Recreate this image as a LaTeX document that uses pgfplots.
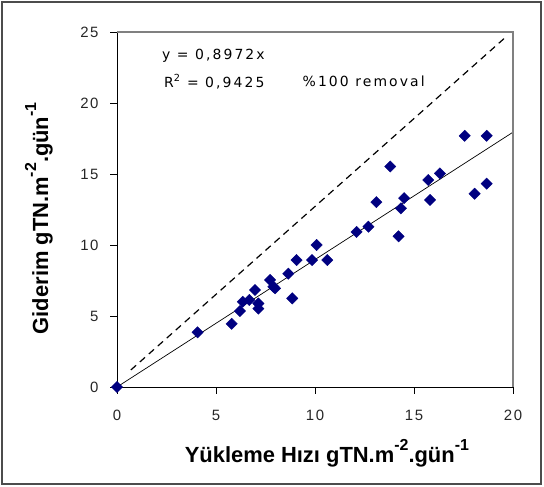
\documentclass[border=0pt]{standalone}
\usepackage{fontspec}
\setmainfont{Liberation Sans}
\newfontfamily\annfont[LetterSpace=15]{DejaVu Sans}
\newfontfamily\tickfont[LetterSpace=10]{Liberation Sans}
\usepackage{pgfplots}
\pgfplotsset{compat=1.18}
\definecolor{navy}{HTML}{000080}
\newcommand{\sups}[1]{\raisebox{0.55em}{\fontsize{16}{16}\selectfont #1}}
\begin{document}
\begin{tikzpicture}[x=1bp,y=1bp]
\path[use as bounding box] (0,0) rectangle (544,487);
\draw[black!70, line width=1.6bp] (2,3) rectangle (541,485);
\begin{axis}[
  at={(117bp,100bp)}, anchor=south west,
  scale only axis, width=396bp, height=355bp,
  xmin=0, xmax=20, ymin=0, ymax=25,
  xtick={0,5,...,20}, ytick={0,5,...,25},
  axis x line*=bottom, axis y line*=left,
  tick align=outside, major tick length=7bp,
  tick style={black, line width=0.8bp},
  axis line style={black, line width=0.8bp},
  ticklabel style={font=\tickfont\fontsize{15}{15}\selectfont, black!85},
  xticklabel style={yshift=-13bp},
  yticklabel style={xshift=-8bp},
  /pgf/number format/assume math mode=true,
  xlabel={\textbf{Yükleme Hızı gTN.m\sups{-2}.gün\sups{-1}}},
  ylabel={\textbf{Giderim gTN.m\sups{-2}.gün\sups{-1}}},
  xlabel style={at={(axis description cs:0.53,-0.214)}, anchor=base},
  ylabel style={at={(axis description cs:-0.174,0.475)}, anchor=base, rotate=0},
  label style={font=\fontsize{22}{22}\selectfont},
  clip=false,
]
% 100% removal line
\addplot[black, line width=1.2bp, dash pattern=on 7bp off 5bp] coordinates {(0.7,1.2) (19.6,24.6)};
% trend line y = 0.8972x
\addplot[black, line width=0.7bp] coordinates {(0,0) (20,17.944)};
\addplot[only marks, mark=square*, mark size=4bp, mark options={rotate=45, fill=navy, draw=navy}] coordinates {
(0,0) (4.07,3.85) (5.79,4.45) (6.21,5.35) (6.35,6.0) (6.68,6.13) (6.97,6.83)
(7.14,5.88) (7.14,5.52) (7.73,7.54) (7.9,7.06) (7.98,6.95) (8.65,7.98)
(8.85,6.24) (9.07,8.94) (9.85,8.94) (10.08,10.0) (10.62,8.94) (12.1,10.92)
(12.7,11.29) (13.1,13.02) (13.8,15.53) (14.22,10.61) (14.34,12.58)
(14.5,13.3) (15.72,14.58) (15.81,13.17) (16.31,15.04) (17.56,17.69)
(18.06,13.61) (18.67,17.69) (18.67,14.32)
};
\draw[black!50, line width=1.5bp] (rel axis cs:0,1) -- (rel axis cs:1,1) -- (rel axis cs:1,0);
\node[anchor=west, font=\annfont\fontsize{14}{14}\selectfont] at (axis cs:2.1,23.3) {y = 0,8972x};
\node[anchor=west, font=\annfont\fontsize{14}{14}\selectfont] at (axis cs:2.2,21.5) {R\textsuperscript{2} = 0,9425};
\node[anchor=west, font=\annfont\fontsize{14}{14}\selectfont] at (axis cs:9.2,21.5) {\%100 removal};
\end{axis}
\end{tikzpicture}
\end{document}
